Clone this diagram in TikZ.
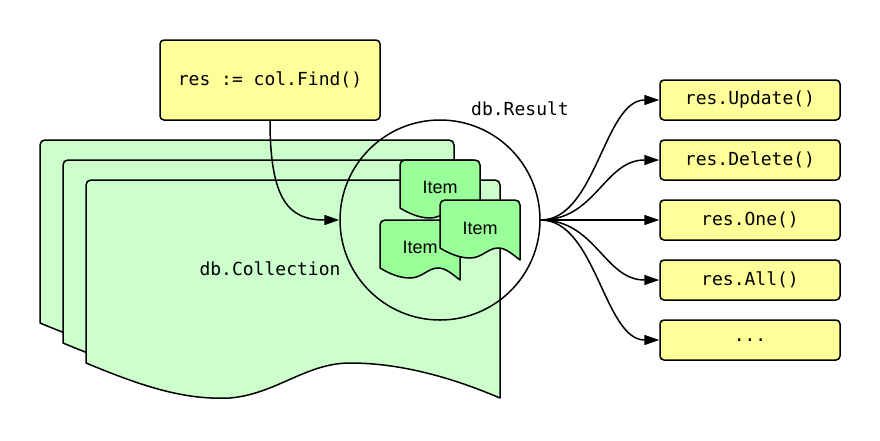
\documentclass[tikz,border=0pt]{standalone}
\usepackage{fontspec}
\setmonofont{DejaVu Sans Mono}
\setsansfont{Liberation Sans}
\usetikzlibrary{arrows.meta}
\definecolor{pagegreen}{HTML}{CCFFCC}
\definecolor{itemgreen}{HTML}{99FF99}
\definecolor{boxyellow}{HTML}{FFFF99}
\tikzset{
  ln/.style={line width=1.5pt, line join=round},
  arr/.style={ln, -{Triangle[length=15pt,width=10pt]}},
  codebox/.style={ln, draw, fill=boxyellow, rounded corners=4pt, minimum width=180pt, minimum height=40pt, inner sep=0pt, font=\ttfamily\fontsize{18}{20}\selectfont},
  lbl/.style={inner sep=0pt, font=\ttfamily\fontsize{18}{20}\selectfont},
  itemlbl/.style={inner sep=0pt, font=\sffamily\fontsize{18}{20}\selectfont},
  pageshape/.style={ln, draw, fill=pagegreen},
  itemshape/.style={ln, draw, fill=itemgreen}
}
\newcommand\docpage{%
  (0,183) -- (0,5) .. controls (0,2) and (2,0) .. (5,0) -- (409,0) .. controls (412,0) and (414,2) .. (414,5) -- (414,218)
  .. controls (360,195) and (310,183) .. (264,183) .. controls (220,183) and (190,214) .. (144,218)
  .. controls (100,220) and (60,208) .. (0,183) -- cycle}
\newcommand\docitem{%
  (0,48) -- (0,5) .. controls (0,2) and (2,0) .. (5,0) -- (75,0) .. controls (78,0) and (80,2) .. (80,5) -- (80,60)
  .. controls (72,54) and (66,48) .. (58,48) .. controls (48,48) and (42,58) .. (30,58)
  .. controls (20,58) and (10,54) .. (0,48) -- cycle}
\begin{document}
\begin{tikzpicture}[x=1pt,y=-1pt]
\useasboundingbox (0,0) rectangle (880,440);
% collection pages
\begin{scope}[shift={(40,140)}] \path[pageshape] \docpage; \end{scope}
\begin{scope}[shift={(63,160)}] \path[pageshape] \docpage; \end{scope}
\begin{scope}[shift={(86,180)}] \path[pageshape] \docpage; \end{scope}
\node[lbl] (coll) at (270,269) {db.Collection};
% result circle
\node[ln, draw, circle, minimum size=200pt, inner sep=0pt] (res) at (440,220) {};
\node[lbl] (reslbl) at (520,109) {db.Result};
% items
\begin{scope}[shift={(400,160)}] \path[itemshape] \docitem; \end{scope}
\node[itemlbl] (item1) at (440,187) {Item};
\begin{scope}[shift={(380,220)}] \path[itemshape] \docitem; \end{scope}
\node[itemlbl] (item2) at (420,247) {Item};
\begin{scope}[shift={(440,200)}] \path[itemshape] \docitem; \end{scope}
\node[itemlbl] (item3) at (480,228) {Item};
% find box
\node[codebox, minimum width=220pt, minimum height=80pt] (find) at (270,80) {res := col.Find()};
\draw[arr] (find.south) .. controls +(0,80) and +(-50,0) .. (res.west);
% method boxes
\node[codebox] (upd) at (750,100) {res.Update()};
\node[codebox] (del) at (750,160) {res.Delete()};
\node[codebox] (one) at (750,220) {res.One()};
\node[codebox] (all) at (750,280) {res.All()};
\node[codebox] (more) at (750,340) {...};
\foreach \b in {upd,del,one,all,more}
  \draw[arr] (res.east) .. controls +(55,0) and +(-55,0) .. (\b.west);
\end{tikzpicture}
\end{document}
